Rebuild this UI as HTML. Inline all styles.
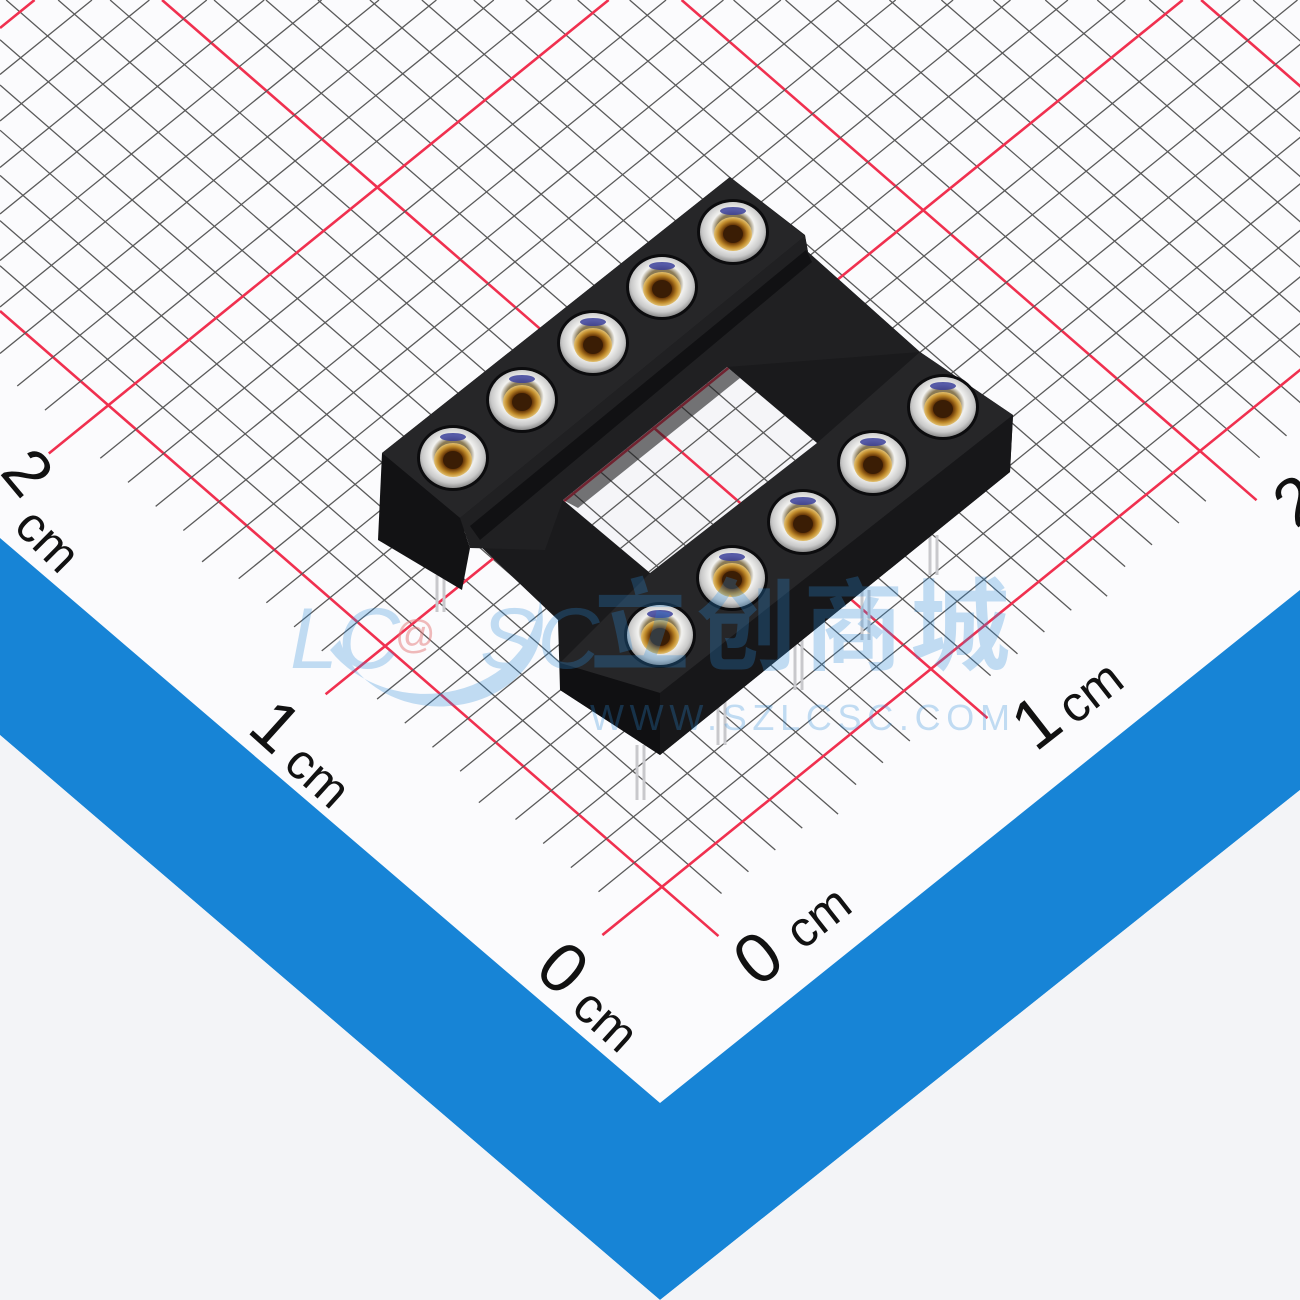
<!DOCTYPE html>
<html><head><meta charset="utf-8"><style>
html,body{margin:0;padding:0;width:1300px;height:1300px;overflow:hidden;background:#fbfbfd}
svg{display:block;position:absolute;left:0;top:0}
</style></head><body>
<svg id="s" width="1300" height="1300" viewBox="0 0 1300 1300" xmlns="http://www.w3.org/2000/svg">
<defs>
<radialGradient id="rim" cx="50%" cy="45%" r="55%">
<stop offset="0.45" stop-color="#8a7a55"/><stop offset="0.6" stop-color="#f2f2f0"/><stop offset="0.85" stop-color="#c9c9c9"/><stop offset="1" stop-color="#8d8d8d"/>
</radialGradient>
<radialGradient id="gold" cx="50%" cy="50%" r="50%">
<stop offset="0" stop-color="#4a2606"/><stop offset="0.55" stop-color="#6b3a08"/><stop offset="0.8" stop-color="#c08a2a"/><stop offset="1" stop-color="#e2c070"/>
</radialGradient>
<clipPath id="wc"><polygon points="563,500 727,367 817,443 650,573"/></clipPath>
</defs>
<rect width="1300" height="1300" fill="#fbfbfd"/>
<g id="grid"></g>
<polygon points="0,538 660,1103 1300,590 1300,790 660,1300 0,735" fill="#1784d6"/>
<polygon points="0,735 660,1300 0,1300" fill="#f3f4f7"/>
<polygon points="1300,790 660,1300 1300,1300" fill="#f3f4f7"/>
<g font-family="Liberation Sans, DejaVu Sans, sans-serif" fill="#111" dominant-baseline="central" text-anchor="middle">
<text transform="translate(28,472) rotate(50)" font-size="66">2</text>
<text transform="translate(48,540) rotate(45)" font-size="50">cm</text>
<text transform="translate(276,726) rotate(42)" font-size="70">1</text>
<text transform="translate(318,776) rotate(42)" font-size="50">cm</text>
<text transform="translate(563,968) rotate(42)" font-size="70">0</text>
<text transform="translate(606,1020) rotate(42)" font-size="50">cm</text>
<text transform="translate(758,958) rotate(-38)" font-size="70">0</text>
<text transform="translate(818,917) rotate(-38)" font-size="50">cm</text>
<text transform="translate(1036,722) rotate(-38)" font-size="70">1</text>
<text transform="translate(1090,692) rotate(-38)" font-size="50">cm</text>
<text transform="translate(1296,500) rotate(-38)" font-size="66">2</text>
</g>
<g stroke="#c8c8cc" stroke-width="3" fill="none">
<path d="M437,575 V612 M444,575 V612"/>
<path d="M583,470 V500 M590,470 V500"/>
<path d="M652,415 V440 M659,415 V440"/>
<path d="M637,745 V800 M644,745 V800"/>
<path d="M718,690 V745 M725,690 V745"/>
<path d="M795,640 V690 M802,640 V690"/>
<path d="M862,590 V640 M869,590 V640"/>
<path d="M930,535 V575 M937,535 V575"/>
</g>
<polygon points="382,453 730,177 805,235 808,252 920,352 1013,415 1010,472 660,755 560,690 558,620 Q530,572 482,574 L462,590 378,540" fill="#1a1a1c"/>
<polygon points="382,453 730,177 805,236 460,518" fill="#262628"/>
<polygon points="460,518 805,236 808,252 920,352 727,367 563,500 545,550 470,548" fill="#202022"/>
<polygon points="470,526 806,250 812,262 480,540" fill="#111113"/>
<polygon points="920,352 1013,415 660,693 560,663 650,573 817,443" fill="#262628"/>
<polygon points="660,693 1013,415 1010,472 660,755" fill="#171719"/>
<polygon points="560,663 660,693 660,755 560,690" fill="#101012"/>
<polygon points="382,453 460,518 470,548 462,590 378,540" fill="#121214"/>
<polygon points="563,500 727,367 817,443 650,573" fill="#f5f5f8"/>
<g id="win" clip-path="url(#wc)"></g>
<polygon points="563,500 727,367 740,378 578,508" fill="#1a1a1c" opacity="0.6"/>
<g id="pins"></g>
<g fill="#2b8ad8" opacity="0.28" font-family="Liberation Sans, Noto Sans CJK SC, sans-serif">
<path d="M330,650 A115,100 0 0 0 540,600 A95,80 0 0 1 340,640 Z"/>
<text x="290" y="668" font-size="86" font-style="italic">LC</text>
<text x="480" y="668" font-size="86" font-style="italic">SC</text>
<text x="590" y="662" font-size="100" font-weight="bold" textLength="420">立创商城</text>
<text x="590" y="730" font-size="36" textLength="420">WWW.SZLCSC.COM</text>
</g>
<text x="395" y="648" font-size="40" fill="#e57a7a" opacity="0.5" font-family="Liberation Sans, sans-serif">@</text>
</svg>
<script>
(function(){
var NS="http://www.w3.org/2000/svg";
var g=document.getElementById('grid'), w=document.getElementById('win'), p=document.getElementById('pins');
function ln(par,x1,y1,x2,y2,col,sw){var l=document.createElementNS(NS,'line');l.setAttribute('x1',x1);l.setAttribute('y1',y1);l.setAttribute('x2',x2);l.setAttribute('y2',y2);l.setAttribute('stroke',col);l.setAttribute('stroke-width',sw);par.appendChild(l);}
var a=0.87,b=0.81;
for(var k=0;k<60;k++){
 var c=311-45.2*k, red=(k%10==0), L=red?95:(k%5==0?70:55);
 var x0=Math.max(0,-c/a); if(x0>1300)break;
 var x1=(1423+L-c)/(a+b);
 ln(g,x0,a*x0+c,x1,a*x1+c,red?"#f0304f":"#5a5a5a",red?2.6:1.3);
 ln(w,0,c,1300,a*1300+c,red?"#f0304f":"#5a5a5a",red?2.6:1.3);
}
for(var k=0;k<70;k++){
 var c=1423-46.5*k, red=(k%10==0), L=red?100:(k%5==0?75:60);
 if(c<0)break;
 var x0=Math.max(0,(c-311-L)/(a+b)), x1=c/b;
 ln(g,x0,-b*x0+c,x1,-b*x1+c,red?"#f0304f":"#5a5a5a",red?2.6:1.3);
 ln(w,0,c,1300,-b*1300+c,red?"#f0304f":"#5a5a5a",red?2.6:1.3);
}
var pins=[[453,458],[522,400],[593,343],[662,287],[733,232],[660,635],[732,578],[803,522],[873,463],[943,407]];
pins.forEach(function(q){
 var s='<ellipse cx="'+q[0]+'" cy="'+q[1]+'" rx="36" ry="33" fill="#0c0c0e"/>'+
 '<ellipse cx="'+q[0]+'" cy="'+q[1]+'" rx="33" ry="30" fill="url(#rim)"/>'+
 '<ellipse cx="'+q[0]+'" cy="'+(q[1]+2)+'" rx="19" ry="17" fill="url(#gold)"/>'+
 '<ellipse cx="'+q[0]+'" cy="'+(q[1]+2)+'" rx="10" ry="9" fill="#3a1d05"/>'+
 '<ellipse cx="'+q[0]+'" cy="'+(q[1]-21)+'" rx="13" ry="4" fill="#3b3f9a" opacity="0.85"/>';
 var t=document.createElementNS(NS,'g');t.innerHTML=s;p.appendChild(t);
});
})();
</script>
</body></html>
